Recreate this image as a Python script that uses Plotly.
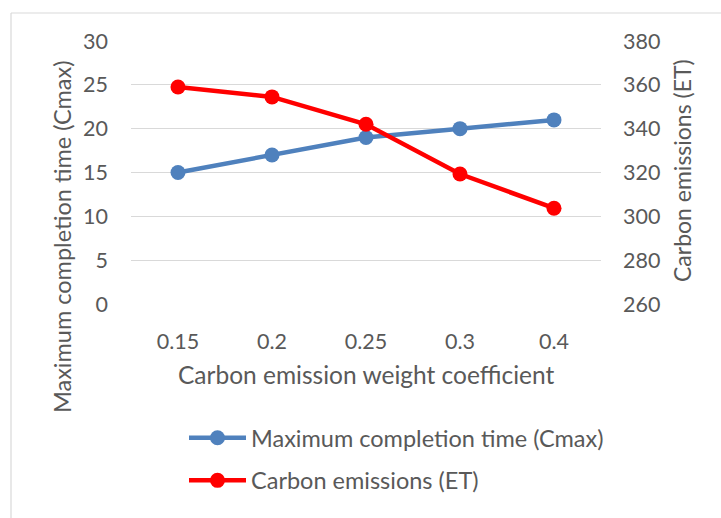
import plotly.graph_objects as go

categories = ["0.15", "0.2", "0.25", "0.3", "0.4"]
cmax = [15, 17, 19, 20, 21]
emissions = [359, 354.5, 342, 319.3, 303.7]

left_ticks = [0, 5, 10, 15, 20, 25, 30]
right_ticks = [260, 280, 300, 320, 340, 360, 380]

FONT = "Lato"
GREY = "#595959"
BLUE = "#4f81bd"
RED = "#ff0000"

W, H = 721, 518
L, R, T, B = 131, 120, 41, 214
PW, PH = W - L - R, H - T - B

def px_x(x):
    return (x - L) / PW

def px_y(y):
    return 1 - (y - T) / PH

fig = go.Figure()
fig.add_trace(go.Scatter(
    x=categories, y=cmax, name="Maximum completion time (Cmax)",
    mode="lines+markers", line=dict(color=BLUE, width=4.5),
    marker=dict(color=BLUE, size=15), legendgroup="a"))
fig.add_trace(go.Scatter(
    x=categories, y=emissions, name="Carbon emissions (ET)", yaxis="y2",
    mode="lines+markers", line=dict(color=RED, width=4.5),
    marker=dict(color=RED, size=15), legendgroup="b"))

fig.update_layout(
    width=W, height=H,
    margin=dict(l=L, r=R, t=T, b=B, autoexpand=False),
    paper_bgcolor="white", plot_bgcolor="white",
    font=dict(family=FONT, color=GREY, size=21),
    xaxis=dict(type="category", range=[-0.5, 4.5], showgrid=False,
               showline=False, ticks="", tickfont=dict(size=21.5, color=GREY),
               ticklabelstandoff=22, zeroline=False),
    yaxis=dict(range=[0, 30], tickvals=left_ticks, showgrid=True,
               gridcolor="#d9d9d9", gridwidth=1.3, zeroline=False,
               ticks="", tickfont=dict(size=21.5, color=GREY), ticklabelstandoff=22),
    yaxis2=dict(range=[260, 380], tickvals=right_ticks, overlaying="y", side="right",
                showgrid=False, zeroline=False, ticks="",
                tickfont=dict(size=21.5, color=GREY), ticklabelstandoff=21),
    showlegend=True,
    legend=dict(x=px_x(184), y=px_y(416), xanchor="left", yanchor="top",
                font=dict(size=23.5, color=GREY), itemwidth=57, tracegroupgap=9,
                bgcolor="rgba(0,0,0,0)"),
    shapes=[
        dict(type="line", xref="paper", yref="paper", x0=px_x(11), x1=px_x(760),
             y0=px_y(13), y1=px_y(13), line=dict(color="#d9d9d9", width=1.2)),
        dict(type="line", xref="paper", yref="paper", x0=px_x(11), x1=px_x(11),
             y0=px_y(13), y1=px_y(560), line=dict(color="#d9d9d9", width=1.2)),
    ],
    annotations=[
        dict(text="Carbon emission weight coefficient", xref="paper", yref="paper",
             x=px_x(366), y=px_y(374), showarrow=False, font=dict(size=24.5, color=GREY),
             xanchor="center", yanchor="middle"),
        dict(text="Maximum completion time (Cmax)", xref="paper", yref="paper",
             x=px_x(62), y=px_y(237), showarrow=False, textangle=-90,
             font=dict(size=23.5, color=GREY), xanchor="center", yanchor="middle"),
        dict(text="Carbon emissions (ET)", xref="paper", yref="paper",
             x=px_x(682), y=px_y(171), showarrow=False, textangle=-90,
             font=dict(size=23, color=GREY), xanchor="center", yanchor="middle"),
    ],
)

fig.write_html("out.html")
